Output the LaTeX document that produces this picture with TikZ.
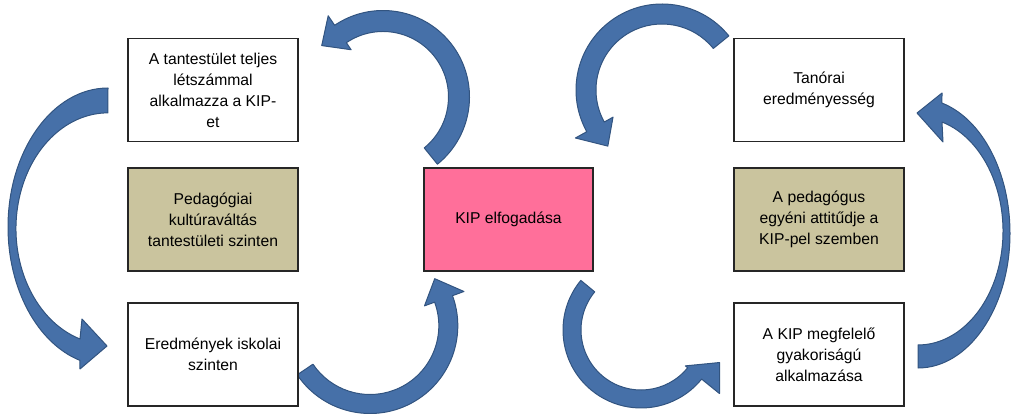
\documentclass[tikz,border=0pt]{standalone}
\usepackage{fontspec}
\setmainfont{Liberation Sans}
\definecolor{arrowblue}{RGB}{70,112,168}
\definecolor{arrowedge}{RGB}{50,84,128}
\definecolor{boxkhaki}{RGB}{202,196,158}
\definecolor{boxpink}{RGB}{255,111,154}
\begin{document}
\begin{tikzpicture}[x=1pt,y=1pt,
  box/.style={draw=black!85, line width=1.1pt, minimum width=170pt, minimum height=103pt,
    align=center, inner sep=4pt, font=\fontsize{15.7}{21}\selectfont},
  plainbox/.style={box, fill=white},
  khakibox/.style={box, fill=boxkhaki},
  pinkbox/.style={box, fill=boxpink},
  arr/.style={fill=arrowblue, draw=arrowedge, line width=1pt, line join=round}]
\useasboundingbox (0,0) rectangle (1012,413);

% arrow centres
\coordinate (cA) at (383,316);
\coordinate (cB) at (662,323);
\coordinate (cE) at (370,87.3);
\coordinate (cF) at (641,83);

% Arrow A: from centre box up and over to top-left box
\begin{scope}[shift={(cA)}]
\filldraw[arr] (-51:86.5) arc[start angle=-51,end angle=124,radius=86.5]
  -- (124:98) -- (140:80) -- (124:57) -- (124:65.5)
  arc[start angle=124,end angle=-51,radius=65.5] -- cycle;
\end{scope}

% Arrow B: from top-right box over to centre box
\begin{scope}[shift={(cB)}]
\filldraw[arr] (39:86) arc[start angle=39,end angle=209,radius=86]
  -- (209:99) -- (226:78) -- (209:56) -- (209:66)
  arc[start angle=209,end angle=39,radius=66] -- cycle;
\end{scope}

% Arrow E: from bottom-left box up to centre box
\begin{scope}[shift={(cE)}]
\filldraw[arr] (214:87.8) arc[start angle=214,end angle=380,radius=87.8]
  -- (380:100) -- (396:80) -- (380:58) -- (380:68.8)
  arc[start angle=380,end angle=214,radius=68.8] -- cycle;
\end{scope}

% Arrow F: from centre box down to bottom-right box
\begin{scope}[shift={(cF)}]
\filldraw[arr] (140.5:78) arc[start angle=140.5,end angle=321,radius=78]
  -- (321:101) -- (337.5:85) -- (321:57) -- (321:60)
  arc[start angle=321,end angle=140.5,radius=60] -- cycle;
\end{scope}

% Arrow C: left crescent, top-left box down to bottom-left box
\filldraw[arr] (108,325) arc[start angle=90,end angle=253.7,x radius=100,y radius=139]
  -- (80,44) -- (107,67) -- (82,94) -- (80,74)
  arc[start angle=252.3,end angle=90,x radius=92,y radius=115.8] -- cycle;

% Arrow D: right crescent, bottom-right box up to top-right box
\filldraw[arr] (918,45) arc[start angle=-90,end angle=74.9,x radius=92,y radius=134.8]
  -- (942,320) -- (917,300) -- (943,271) -- (942,291)
  arc[start angle=73.6,end angle=-90,x radius=85,y radius=113.8] -- cycle;

% Boxes
\node[plainbox] (tl) at (213,323) {A tantestület teljes\\létszámmal\\alkalmazza a KIP-\\et};
\node[khakibox] (ml) at (213,193.5) {Pedagógiai\\kultúraváltás\\tantestületi szinten};
\node[plainbox] (bl) at (213,58.5) {Eredmények iskolai\\szinten};
\node[pinkbox, minimum width=169pt] (c) at (508.5,193.5) {KIP elfogadása};
\node[plainbox] (tr) at (819,323) {Tanórai\\eredményesség};
\node[khakibox] (mr) at (819,193.5) {A pedagógus\\egyéni attitűdje a\\KIP-pel szemben};
\node[plainbox] (br) at (819,58.5) {A KIP megfelelő\\gyakoriságú\\alkalmazása};
\end{tikzpicture}
\end{document}
